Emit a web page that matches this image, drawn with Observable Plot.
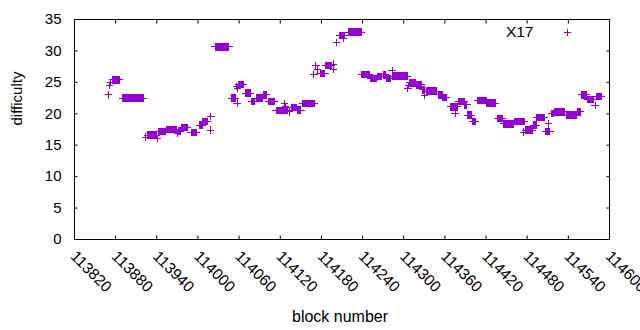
<!DOCTYPE html>
<html><head><meta charset="utf-8">
<script src="https://cdn.jsdelivr.net/npm/d3@7"></script>
<script src="https://cdn.jsdelivr.net/npm/@observablehq/plot@0.6"></script>
<style>body{margin:0;background:#fff;}</style>
</head><body><div id="chart"></div>
<script>
const seriesName = "X17";
const xLabel = "block number";
const yLabel = "difficulty";
// runs of constant difficulty (first block, last block, value)
const runStart = [113876,113890,113926,113942,113954,113972,113976,113990,114002,114007,114025,114049,114059,114069,114078,114085,114096,114103,114114,114136,114145,114153,114178,114186,114206,114219,114239,114252,114262,114270,114275,114284,114309,114318,114327,114333,114350,114357,114368,114380,114389,114393,114400,114408,114421,114437,114445,114462,114478,114489,114494,114507,114515,114520,114537,114553,114559,114568,114581];
const runEnd   = [113885,113921,113940,113952,113968,113974,113985,113998,114006,114014,114045,114055,114066,114077,114083,114094,114100,114112,114129,114144,114150,114170,114185,114195,114214,114238,114250,114260,114268,114273,114281,114305,114317,114326,114331,114348,114356,114362,114378,114388,114392,114399,114405,114420,114434,114444,114460,114476,114488,114493,114505,114513,114519,114535,114552,114557,114566,114576,114588];
const runValue = [25.4,22.5,16.6,17.2,17.5,17.2,17.8,17.0,18.2,18.8,30.65,22.5,24.7,23.3,22.0,22.5,23.0,22.0,20.5,21.0,20.6,21.6,26.4,27.7,32.5,33.0,26.3,25.6,25.9,26.2,25.6,26.0,24.9,24.6,23.8,23.6,23.0,22.6,21.1,22.0,21.4,19.8,18.8,22.1,21.7,19.3,18.4,18.8,17.4,18.2,19.4,17.2,20.0,20.3,19.8,20.3,23.0,22.3,22.7];
// isolated blocks
const singleBlock = [113870,113871,113873,113924,113941,113970,114018,114019,114056,114057,114058,114126,114128,114131,114133,114169,114172,114174,114197,114198,114202,114212,114283,114306,114307,114330,114375,114475,114511,114579];
const singleValue = [23.0,24.5,25.0,16.3,16.1,16.9,17.4,19.6,24.3,21.7,24.0,21.6,21.2,20.5,20.3,26.2,27.7,27.0,27.9,27.0,31.3,32.0,26.9,24.0,24.5,22.9,20.1,17.1,18.4,21.3];
const xTicks = [113820,113880,113940,114000,114060,114120,114180,114240,114300,114360,114420,114480,114540,114600];
const yTicks = [0,5,10,15,20,25,30,35];

const points = [];
runStart.forEach((s, i) => { for (let b = s; b <= runEnd[i]; b++) points.push({block: b, difficulty: runValue[i]}); });
singleBlock.forEach((b, i) => points.push({block: b, difficulty: singleValue[i]}));

const purple = "#9400d3";
const blank = () => "";
const plot = Plot.plot({
  width: 640, height: 330,
  marginLeft: 74, marginRight: 31, marginTop: 19, marginBottom: 91,
  style: {fontFamily: "'Liberation Sans', Arial, sans-serif", fontSize: "15px", color: "#000", background: "#fff", overflow: "visible"},
  x: {domain: [113820, 114600]},
  y: {domain: [0, 35]},
  marks: [
    Plot.dot(points, {x: "block", y: "difficulty", symbol: "plus", r: 2.5, stroke: purple, strokeWidth: 1, shapeRendering: "crispEdges"}),
    Plot.frame({stroke: "#000", strokeWidth: 1, shapeRendering: "crispEdges"}),
    Plot.axisY(yTicks, {anchor: "left", tickSize: 0, tickPadding: 13, fontSize: 15, label: null}),
    Plot.axisY(yTicks, {anchor: "left", tickSize: -3.5, tickFormat: blank, label: null}),
    Plot.axisY(yTicks, {anchor: "right", tickSize: -3.5, tickFormat: blank, label: null}),
    Plot.axisX(xTicks, {anchor: "bottom", tickSize: -3.5, tickFormat: blank, label: null}),
    Plot.axisX(xTicks, {anchor: "top", tickSize: -3.5, tickFormat: blank, label: null}),
    Plot.text(xTicks, {x: d => d, frameAnchor: "bottom", text: d => String(d), rotate: 45, textAnchor: "start", lineAnchor: "top", dx: 3, dy: 10, fontSize: 15.5}),
    Plot.text([xLabel], {frameAnchor: "bottom", text: d => d, lineAnchor: "top", dx: -2, dy: 71, fontSize: 16}),
    Plot.text([yLabel], {frameAnchor: "left", text: d => d, rotate: -90, lineAnchor: "middle", dx: -57, dy: -4, fontSize: 15}),
    Plot.text([seriesName], {frameAnchor: "top-right", text: d => d, textAnchor: "end", lineAnchor: "middle", dx: -76, dy: 12.7, fontSize: 15.5}),
    Plot.dot([seriesName], {frameAnchor: "top-right", dx: -41.7, dy: 12.7, symbol: "plus", r: 2.5, stroke: purple, strokeWidth: 1, shapeRendering: "crispEdges"})
  ]
});
document.getElementById("chart").append(plot);
</script>
</body></html>
